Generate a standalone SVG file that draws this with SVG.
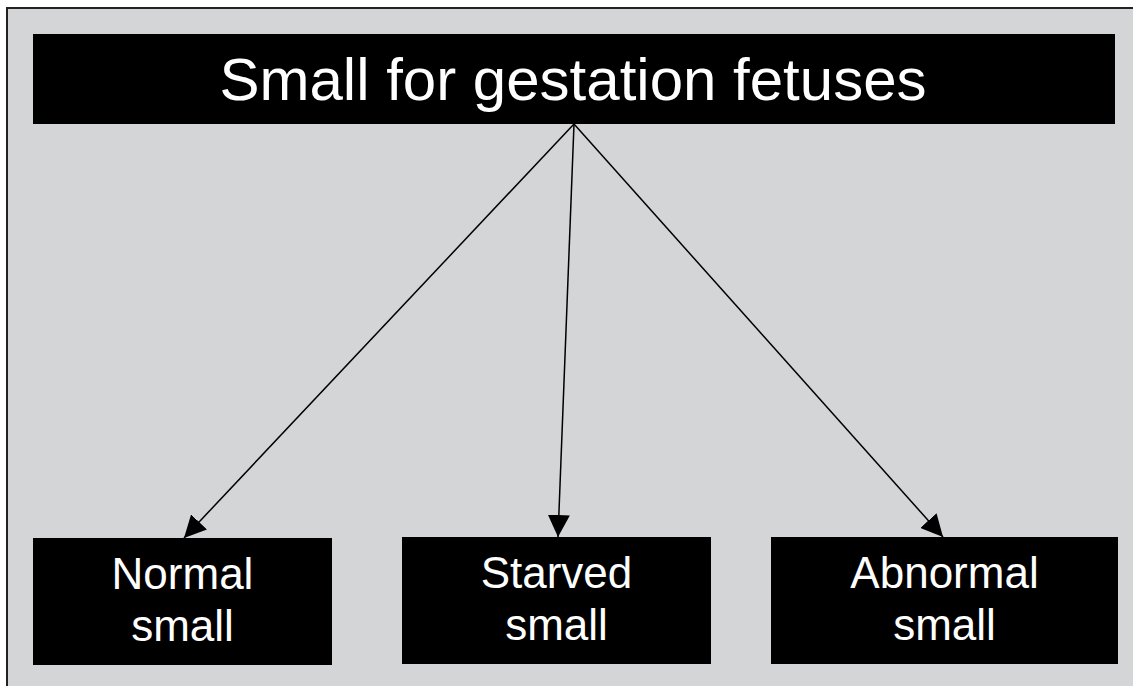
<svg xmlns="http://www.w3.org/2000/svg" width="1133" height="686" viewBox="0 0 1133 686">
  <style>
    .box { fill: #000000; }
    .t { fill: #ffffff; font-family: "Liberation Sans", Arial, sans-serif; text-anchor: middle; }
    .title { font-size: 60px; }
    .sub { font-size: 44px; }
    .conn { stroke: #000000; stroke-width: 1.5; fill: none; marker-end: url(#arrow); }
  </style>
  <defs>
    <marker id="arrow" markerUnits="userSpaceOnUse" markerWidth="22" markerHeight="22" viewBox="0 0 20 20" refX="20" refY="10" orient="auto">
      <path d="M0,0 L20,10 L0,20 Z" fill="#000000"/>
    </marker>
  </defs>
  <rect x="0" y="0" width="1133" height="686" fill="#ffffff"/>
  <rect x="7" y="8" width="1140" height="700" fill="#d4d5d7" stroke="#222222" stroke-width="2"/>
  <g id="connectors">
    <line class="conn" x1="574" y1="124" x2="184" y2="538"/>
    <line class="conn" x1="574" y1="124" x2="558" y2="537"/>
    <line class="conn" x1="574" y1="124" x2="943" y2="537"/>
  </g>
  <g id="node-root">
    <rect class="box" x="33" y="34" width="1082" height="90"/>
    <text class="t title" x="573" y="100">Small for gestation fetuses</text>
  </g>
  <g id="node-normal">
    <rect class="box" x="33" y="538" width="299" height="127"/>
    <text class="t sub" x="182.5" y="589">Normal</text>
    <text class="t sub" x="182.5" y="641">small</text>
  </g>
  <g id="node-starved">
    <rect class="box" x="402" y="537" width="309" height="127"/>
    <text class="t sub" x="556.5" y="588">Starved</text>
    <text class="t sub" x="556.5" y="640">small</text>
  </g>
  <g id="node-abnormal">
    <rect class="box" x="771" y="537" width="347" height="127"/>
    <text class="t sub" x="944.5" y="588">Abnormal</text>
    <text class="t sub" x="944.5" y="640">small</text>
  </g>
</svg>
